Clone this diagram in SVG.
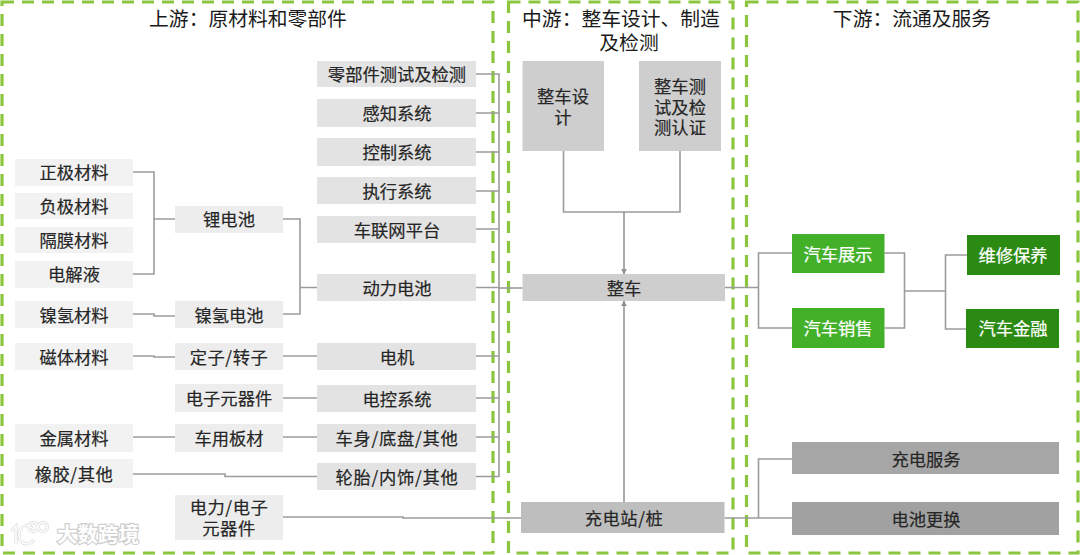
<svg xmlns="http://www.w3.org/2000/svg" width="1080" height="555" viewBox="0 0 1080 555">
<style>
text{font-family:"Noto Sans CJK SC","Liberation Sans",sans-serif;text-anchor:middle;fill:#262626;stroke:#262626;stroke-width:.2px;font-size:17.300px}
.t{font-size:19.800px;fill:#1a1a1a;stroke:none}
text.w{fill:#fff;stroke:#fff}
.p{fill:none;stroke:#8cc63f;stroke-width:3.200;stroke-dasharray:12 8}
.a{fill:#f2f2f2}.b{fill:#ededed}.c{fill:#e3e3e3}.d{fill:#cecece}.e{fill:#bebebe}
.g{fill:#43b02a}.h{fill:#2b8a12}.s{fill:#a6a6a6}.s2{fill:#a1a1a1}
.l{fill:none;stroke:#9c9c9c;stroke-width:1.600}
.m{fill:none;stroke:#8f8f8f;stroke-width:1.500}
.k{fill:none;stroke:#dcdcdc;stroke-width:3}
.k2{fill:none;stroke:#fff;stroke-width:1.500}
text.wm{fill:#fff;stroke:#cfcfcf;stroke-width:2.400px;paint-order:stroke;font-size:20.500px;font-weight:700}
</style>
<defs>
<marker id="ar" viewBox="0 0 10 10" refX="9" refY="5" markerWidth="6" markerHeight="7" markerUnits="userSpaceOnUse" orient="auto"><path d="M0 0L10 5L0 10Z" fill="#8f8f8f"/></marker>
</defs>

<g id="panels">
<rect class="p" x="2" y="2" width="491" height="551"/>
<rect class="p" x="508.500" y="2" width="224.500" height="551"/>
<rect class="p" x="746.500" y="2" width="331.500" height="551"/>
</g>
<g id="titles">
<text class="t" x="248" y="26">上游：原材料和零部件</text>
<text class="t" x="621"><tspan x="621" y="26">中游：整车设计、制造</tspan><tspan x="629" y="50">及检测</tspan></text>
<text class="t" x="912" y="26">下游：流通及服务</text>
</g>

<g id="connectors">
<path class="l" d="M133 172H154V274H133M154 219H175"/>
<path class="l" d="M283 219H300V314H283M300 287.500H317"/>
<path class="l" d="M133 314H154V316H175"/>
<path class="l" d="M133 356H154V357H175"/>
<path class="l" d="M283 356H317"/>
<path class="l" d="M283 398H317"/>
<path class="l" d="M133 437H175"/>
<path class="l" d="M283 437H317"/>
<path class="l" d="M133 474H225V476.500H317"/>
<path class="l" d="M283 517H403V518H521"/>
<path class="l" d="M476 74H499V476.500H476M476 113H499M476 152H499M476 191H499M476 229H499M476 287.500H499M476 356H499M476 398H499M476 437H499"/>
<path class="l" d="M499 288H522.500" stroke-width="2"/>
<path class="l" d="M563.500 151V212H680V151"/>
<path class="m" d="M624 212V274" marker-end="url(#ar)"/>
<path class="m" d="M624 502V301" stroke-width="1.200" marker-end="url(#ar)"/>
<path class="l" d="M725 287.500H758.500M792 253H758.500V328H792"/>
<path class="l" d="M884.500 253H904.500V328H884.500M904.500 291H945.500M967 255H945.500V329H966"/>
<path class="l" d="M724.500 518H792M792 459H758.500V518"/>
</g>

<g id="n-zhengji"><rect class="a" x="15" y="159" width="118" height="27"/><text x="74" y="179">正极材料</text></g>
<g id="n-fuji"><rect class="a" x="15" y="193" width="118" height="26"/><text x="74" y="213">负极材料</text></g>
<g id="n-gemo"><rect class="a" x="15" y="227" width="118" height="26"/><text x="74" y="247">隔膜材料</text></g>
<g id="n-dianjieye"><rect class="a" x="15" y="261" width="118" height="27"/><text x="74" y="281">电解液</text></g>
<g id="n-nieqing-cl"><rect class="a" x="15" y="301" width="118" height="27"/><text x="74" y="322">镍氢材料</text></g>
<g id="n-citi"><rect class="a" x="15" y="343" width="118" height="27"/><text x="74" y="364">磁体材料</text></g>
<g id="n-jinshu"><rect class="a" x="15" y="424" width="118" height="28"/><text x="74" y="445">金属材料</text></g>
<g id="n-xiangjiao"><rect class="a" x="15" y="459" width="118" height="29"/><text x="74" y="481" letter-spacing=".5">橡胶/其他</text></g>

<g id="n-lidianchi"><rect class="b" x="175" y="206" width="108" height="27"/><text x="229" y="226">锂电池</text></g>
<g id="n-nieqing-dc"><rect class="b" x="175" y="301" width="108" height="27"/><text x="229" y="322">镍氢电池</text></g>
<g id="n-dingzi"><rect class="b" x="175" y="343" width="108" height="27"/><text x="229" y="364" letter-spacing=".5">定子/转子</text></g>
<g id="n-dianzi"><rect class="b" x="175" y="384" width="108" height="28"/><text x="229" y="405">电子元器件</text></g>
<g id="n-banca"><rect class="b" x="175" y="424" width="108" height="28"/><text x="229" y="445">车用板材</text></g>
<g id="n-dianli"><rect class="b" x="175" y="495" width="108" height="45"/><text x="229" letter-spacing=".5"><tspan x="229" y="514">电力/电子</tspan><tspan x="229" y="535">元器件</tspan></text></g>

<g id="n-lingbujian"><rect class="c" x="317" y="61" width="159" height="26"/><text x="397" y="81">零部件测试及检测</text></g>
<g id="n-ganzhi"><rect class="c" x="317" y="99" width="159" height="28"/><text x="397" y="120">感知系统</text></g>
<g id="n-kongzhi"><rect class="c" x="317" y="138" width="159" height="28"/><text x="397" y="159">控制系统</text></g>
<g id="n-zhixing"><rect class="c" x="317" y="177" width="159" height="27"/><text x="397" y="198">执行系统</text></g>
<g id="n-chelian"><rect class="c" x="317" y="216" width="159" height="27"/><text x="397" y="237">车联网平台</text></g>
<g id="n-dongli"><rect class="c" x="317" y="274" width="159" height="27"/><text x="397" y="295">动力电池</text></g>
<g id="n-dianji"><rect class="c" x="317" y="343" width="159" height="27"/><text x="397" y="364">电机</text></g>
<g id="n-diankong"><rect class="c" x="317" y="385" width="159" height="27"/><text x="397" y="406">电控系统</text></g>
<g id="n-cheshen"><rect class="c" x="317" y="424" width="159" height="28"/><text x="397" y="445" letter-spacing=".7">车身/底盘/其他</text></g>
<g id="n-luntai"><rect class="c" x="317" y="463" width="159" height="27"/><text x="397" y="484" letter-spacing=".7">轮胎/内饰/其他</text></g>

<g id="n-sheji"><rect class="d" x="522.500" y="61" width="81.500" height="90"/><text x="563"><tspan x="563" y="103">整车设</tspan><tspan x="563" y="124">计</tspan></text></g>
<g id="n-ceshi"><rect class="d" x="639" y="61" width="82" height="90"/><text x="680"><tspan x="680" y="93">整车测</tspan><tspan x="680" y="114">试及检</tspan><tspan x="680" y="134">测认证</tspan></text></g>
<g id="n-zhengche"><rect class="d" x="522.500" y="274" width="202.500" height="27"/><text x="624" y="295">整车</text></g>
<g id="n-chongdianzhan"><rect class="e" x="521" y="502" width="203.500" height="31"/><text x="624" y="525" letter-spacing=".5">充电站/桩</text></g>

<g id="n-zhanshi"><rect class="g" x="792" y="234" width="92.500" height="39"/><text class="w" x="838" y="261">汽车展示</text></g>
<g id="n-xiaoshou"><rect class="g" x="792" y="308" width="92.500" height="40"/><text class="w" x="838" y="335">汽车销售</text></g>
<g id="n-weixiu"><rect class="h" x="967" y="235" width="93" height="40"/><text class="w" x="1013" y="262">维修保养</text></g>
<g id="n-jinrong"><rect class="h" x="966" y="309" width="93" height="39"/><text class="w" x="1013" y="335">汽车金融</text></g>
<g id="n-chongdianfuwu"><rect class="s" x="792" y="442" width="267" height="32"/><text x="926" y="466">充电服务</text></g>
<g id="n-genghuan"><rect class="s2" x="792" y="502" width="267" height="33"/><text x="926" y="526">电池更换</text></g>

<g id="watermark">
<path class="k" d="M11 531L16 526V544M33 529C27 522 19 526 19 535C19 544 28 547 34 540"/>
<circle class="k" cx="33" cy="527" r="4.500"/>
<circle class="k" cx="43" cy="527" r="4.500"/>
<path class="k2" d="M11 531L16 526V544M33 529C27 522 19 526 19 535C19 544 28 547 34 540"/>
<circle class="k2" cx="33" cy="527" r="4.500"/>
<circle class="k2" cx="43" cy="527" r="4.500"/>
<text class="wm" x="98" y="542">大数跨境</text>
</g>
</svg>
